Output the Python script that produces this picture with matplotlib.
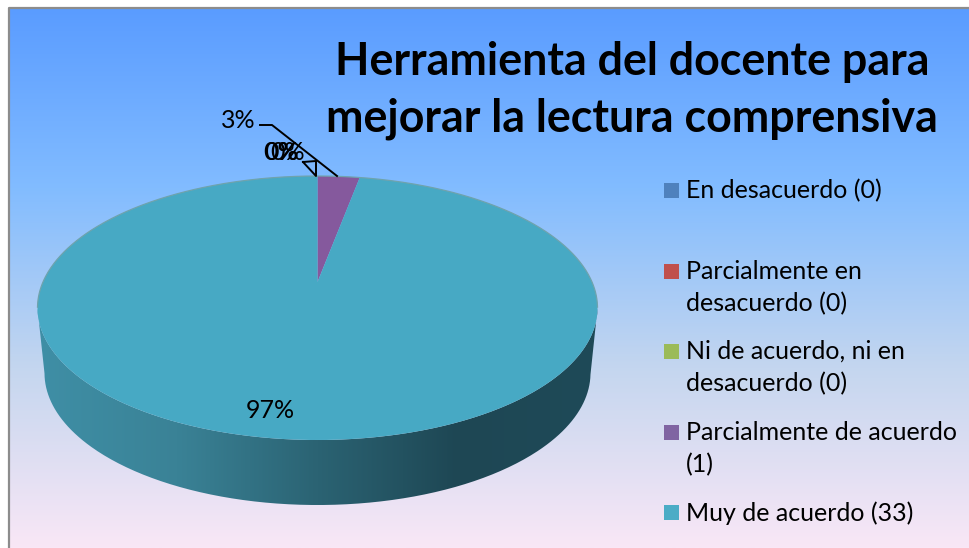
import numpy as np
import matplotlib
matplotlib.use("Agg")
import matplotlib.pyplot as plt
from matplotlib.colors import LinearSegmentedColormap
from matplotlib.patches import PathPatch, Rectangle
from matplotlib.path import Path
from matplotlib.transforms import Transform

categories = ["En desacuerdo (0)", "Parcialmente en\ndesacuerdo (0)",
              "Ni de acuerdo, ni en\ndesacuerdo (0)",
              "Parcialmente de acuerdo\n(1)", "Muy de acuerdo (33)"]
counts = [0, 0, 0, 1, 33]
colors = ["#4f81bd", "#c0504d", "#9bbb59", "#8064a2", "#4bacc6"]
title = "Herramienta del docente para\nmejorar la lectura comprensiva"

plt.rcParams["font.family"] = ["Lato", "DejaVu Sans"]

W, H = 969, 548
CX, TOP, APEX, BOTTOM = 317.5, 176, 282, 440
RX = 280
DEPTH = 65


class Tilt(Transform):
    # unit pie -> pixels, with the slight perspective the 3d pie has
    input_dims = output_dims = 2

    def transform_non_affine(self, xy):
        xy = np.asarray(xy, dtype=float)
        u, v = xy[:, 0], xy[:, 1]
        c = 0.197
        a = TOP * (1 + c) - APEX
        d = c * v + 1
        return np.column_stack([CX + RX * np.sqrt(1 - c * c) * u / d, (a * v + APEX) / d])


fig = plt.figure(figsize=(W / 100, H / 100), dpi=100)
ax = fig.add_axes([0, 0, 1, 1])

wedges, _ = ax.pie(counts, colors=colors, startangle=90, counterclock=False, radius=1)
ax.set_aspect("auto")
ax.set_frame_on(False)

tilt = Tilt()
for w in wedges:
    w.set_transform(tilt + ax.transData)
    w.set_zorder(4)
wedges[3].set_facecolor("#85599d")
wedges[4].set_facecolor("#47a9c4")

# background gradient
bg = LinearSegmentedColormap.from_list("bg", ["#5a9cff", "#82bcff", "#c4d6ef", "#f9e7f6"])
ax.imshow(np.linspace(0, 1, 256)[:, None], cmap=bg, extent=(9, W, 548, 8), aspect="auto", zorder=0)
ax.plot([9, 9, W], [H, 8, 8], color="#8c8c8c", lw=1.6, zorder=1)

# side wall, bottom rim a bit narrower than the top one
t = np.linspace(0, 2 * np.pi, 721)
rim = tilt.transform_non_affine(np.column_stack([np.cos(t), np.sin(t)]))
lower = rim[rim[:, 1] >= 308]
lower = lower[np.argsort(lower[:, 0])]
base = np.column_stack([CX + (lower[:, 0] - CX) * 0.975, lower[:, 1] + DEPTH])
wall = PathPatch(Path(np.vstack([lower, base[::-1]])), transform=ax.transData, fc="none", ec="none")
ax.add_patch(wall)
side = LinearSegmentedColormap.from_list("side", ["#3f8fa6", "#3a8296", "#2b6373", "#1e4754", "#1f4a58"])
im = ax.imshow(np.linspace(0, 1, 256)[None, :], cmap=side, extent=(37, 598, 510, 300), aspect="auto", zorder=3)
im.set_clip_path(wall)

# faint lighter rim on the upper edge
upper = rim[rim[:, 1] < 308]
upper = upper[np.argsort(upper[:, 0])]
ax.plot(upper[:, 0], upper[:, 1], color="#6fa3ad", lw=0.9, zorder=5)

ax.set_xlim(0, W)
ax.set_ylim(H, 0)

# percentage labels
total = sum(counts)
pct = [f"{round(100 * c / total)}%" for c in counts]
lab_x = [280.5, 281.5, 288, 238.5, 270]
lab_y = [153, 153, 153, 120, 411]
for s, x, y in zip(pct, lab_x, lab_y):
    ax.text(x, y, s, fontsize=18, color="black", ha="center", va="center", zorder=6)

# leader lines
ax.plot([260, 272, 337], [125, 125, 176], color="black", lw=1.4, zorder=5)
ax.plot([303, 316, 316, 303], [162, 176, 161, 162], color="black", lw=1.4, zorder=5)

ax.text(632, 90.5, title, fontsize=32.2, fontweight="bold", ha="center", va="center",
        linespacing=1.45, color="black", zorder=6)

# legend
box_y = [190, 271, 351, 432, 512]
for name, col, y in zip(categories, colors, box_y):
    ax.add_patch(Rectangle((664, y - 7.5), 15, 15, fc=col, ec="none", zorder=6))
    ax.text(686, y - 11, name, fontsize=18, ha="left", va="top", linespacing=1.48, zorder=6)

fig.savefig("out.png", dpi=100)
